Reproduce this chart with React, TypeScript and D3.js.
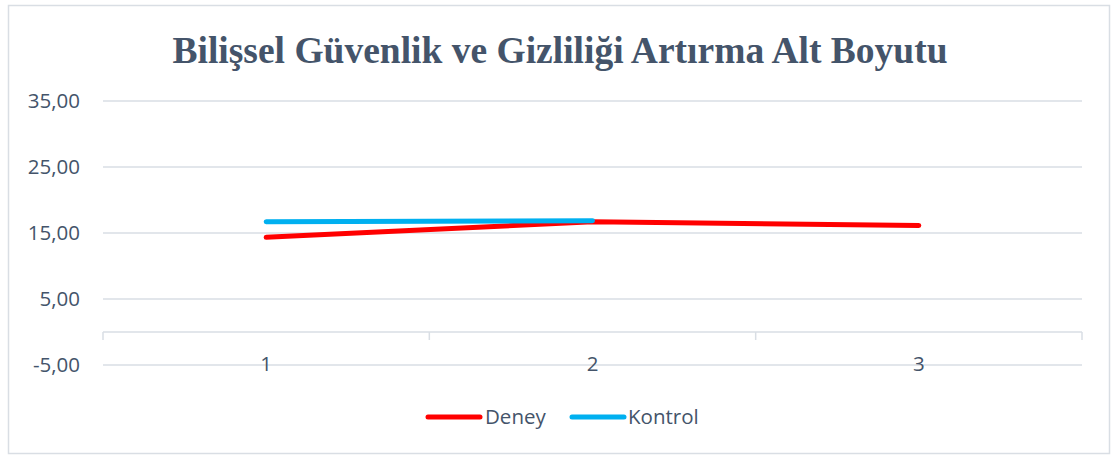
import React from 'react';
import * as d3 from 'd3';

const categories = ['1', '2', '3'];
const deney = [14.35, 16.7, 16.15];
const kontrol = [16.72, 16.87];
const yTicks = [-5, 5, 15, 25, 35];
const title = 'Bilişsel Güvenlik ve Gizliliği Artırma Alt Boyutu';

const W = 1112;
const H = 455;
const margin = { top: 101, right: 30, bottom: 90, left: 103 };
const textColor = '#44546A';
const gridColor = '#D9DEE4';
const labelFont = "'Open Sans', sans-serif";

export default function App() {
  const innerW = W - margin.left - margin.right;
  const innerH = H - margin.top - margin.bottom;

  const x = d3.scaleBand().domain(categories).range([0, innerW]).padding(0);
  const y = d3.scaleLinear().domain([-5, 35]).range([innerH, 0]);
  const cx = (d: string) => (x(d) ?? 0) + x.bandwidth() / 2;

  const line = d3.line<number>()
    .x((d, i) => cx(categories[i]))
    .y(d => y(d));

  const fmt = (v: number) => v.toFixed(2).replace('.', ',');

  return (
    <svg width={W} height={H} style={{ position: 'absolute', left: 0, top: 0 }}>
      <rect x={8.5} y={5.5} width={1101} height={448} fill="#fff" stroke={gridColor} strokeWidth={1.5} />
      <text x={560} y={63} textAnchor="middle" fontFamily="'Liberation Serif', serif" fontWeight="bold"
        fontSize={37.5} fill={textColor}>{title}</text>
      <g transform={`translate(${margin.left},${margin.top})`}>
        {yTicks.map(t => (
          <g key={t}>
            <line x1={0} x2={innerW} y1={y(t)} y2={y(t)} stroke={gridColor} strokeWidth={1.5} />
            <text x={-23} y={y(t) + 7} textAnchor="end" fontFamily={labelFont}
              fontSize={20.5} fill={textColor}>{fmt(t)}</text>
          </g>
        ))}
        <line x1={0} x2={innerW} y1={y(0)} y2={y(0)} stroke={gridColor} strokeWidth={1.5} />
        {[...categories.map(c => x(c) ?? 0), innerW].map((p, i) => (
          <line key={i} x1={p} x2={p} y1={y(0)} y2={y(0) + 8} stroke={gridColor} strokeWidth={1.5} />
        ))}
        {categories.map(c => (
          <text key={c} x={cx(c)} y={y(-5) + 6} textAnchor="middle" fontFamily={labelFont}
            fontSize={20.5} fill={textColor}>{c}</text>
        ))}
        <path d={line(deney) ?? ''} fill="none" stroke="#FF0000" strokeWidth={5} strokeLinecap="round" strokeLinejoin="round" />
        <path d={line(kontrol) ?? ''} fill="none" stroke="#00B0F0" strokeWidth={5} strokeLinecap="round" strokeLinejoin="round" />
      </g>
      <g fontFamily={labelFont} fontSize={20.5} fill={textColor}>
        <line x1={428} x2={480} y1={417} y2={417} stroke="#FF0000" strokeWidth={5} strokeLinecap="round" />
        <text x={485} y={424}>Deney</text>
        <line x1={572} x2={624} y1={417} y2={417} stroke="#00B0F0" strokeWidth={5} strokeLinecap="round" />
        <text x={628} y={424}>Kontrol</text>
      </g>
    </svg>
  );
}
